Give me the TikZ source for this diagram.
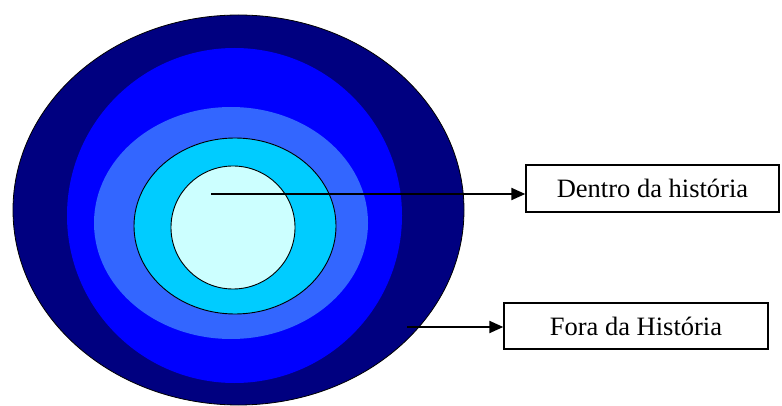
\documentclass[tikz,border=0pt]{standalone}
\usepackage{fontspec}
\setmainfont{Liberation Serif}
\usetikzlibrary{arrows.meta}
\definecolor{ringA}{HTML}{000080}
\definecolor{ringB}{HTML}{0000FF}
\definecolor{ringC}{HTML}{3366FF}
\definecolor{ringD}{HTML}{00CCFF}
\definecolor{ringE}{HTML}{CCFFFF}
\begin{document}
\begin{tikzpicture}[x=1pt,y=-1pt,>={Triangle[length=14pt,width=12pt]},
    labelbox/.style={draw,line width=1.4pt,inner sep=0pt,font=\fontsize{26.5}{31}\selectfont},
    pointer/.style={->,line width=2.2pt}]
  \useasboundingbox (0,0) rectangle (782,406);
  % rings, from outside in
  \fill[ringA,draw=black,line width=0.8pt] (238.5,210) ellipse[x radius=225.5,y radius=195];
  \fill[ringB] (234.5,215.5) ellipse[x radius=167.5,y radius=167.5];
  \fill[ringC] (231,223) ellipse[x radius=137,y radius=116];
  \filldraw[fill=ringD,draw=black,line width=0.9pt] (235,226) ellipse[x radius=101,y radius=88];
  \filldraw[fill=ringE,draw=black,line width=0.9pt] (233,227.5) ellipse[x radius=62,y radius=61.5];
  \coordinate (inner) at (211,194);
  \coordinate (outer) at (407,327);
  % labels
  \node[labelbox,minimum width=253pt,minimum height=47pt] (dentro) at (652.5,188.5) {Dentro da história};
  \node[labelbox,minimum width=264pt,minimum height=46pt] (fora) at (636,326) {Fora da História};
  \draw[pointer] (inner) -- (inner -| dentro.west);
  \draw[pointer] (outer) -- (outer -| fora.west);
\end{tikzpicture}
\end{document}
